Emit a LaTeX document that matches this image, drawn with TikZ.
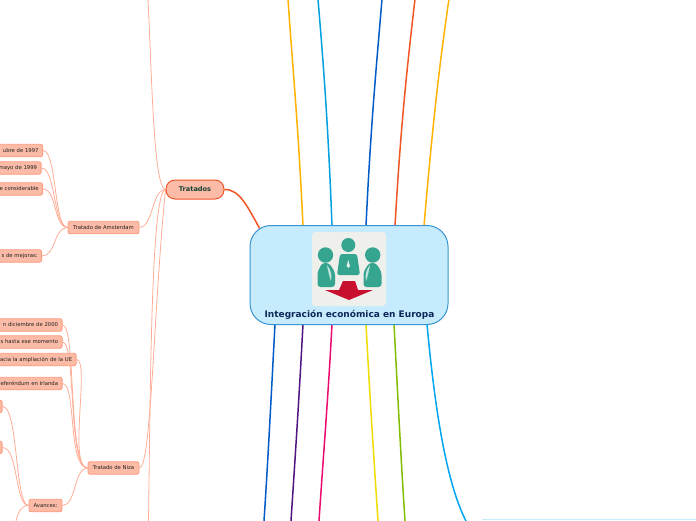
\documentclass[tikz,border=0pt]{standalone}
\usepackage{fontspec}
\setmainfont{DejaVu Sans}
\definecolor{leaffill}{HTML}{FBBBA6}
\definecolor{leafdraw}{HTML}{FF9B7E}
\definecolor{linkc}{HTML}{FFAD96}
\definecolor{teal1}{HTML}{36A590}
\pgfdeclarelayer{bg}
\pgfsetlayers{bg,main}
\tikzset{
  leaf/.style={draw=leafdraw,fill=leaffill,line width=.8pt,rounded corners=2pt,font=\fontsize{5.3}{6}\selectfont,text=black!88,inner sep=0pt,minimum height=12.5pt},
  leafl/.style={leaf,anchor=east,text width=110pt,align=right,inner xsep=4pt,text height=4pt,text depth=1pt},
  link/.style={draw=linkc,line width=.8pt},
  branch/.style={line width=1.5pt},
}
\begin{document}
\begin{tikzpicture}[x=1pt,y=-1pt]
\useasboundingbox (0,0) rectangle (696,520);
\clip (0,0) rectangle (696,520);
% free ends
\coordinate (t1) at (288,-1);\coordinate (t2) at (318,-1);\coordinate (t3) at (382,-1);\coordinate (t4) at (415,-1);\coordinate (t5) at (449,-1);
\coordinate (b1) at (264,521);\coordinate (b2) at (291,521);\coordinate (b3) at (319,521);\coordinate (b4) at (378,521);\coordinate (b5) at (405,521);\coordinate (b6) at (466,521);
\coordinate (c1) at (303,226);\coordinate (c2) at (332,226);\coordinate (c3) at (366,226);\coordinate (c4) at (395,226);\coordinate (c5) at (424,226);
\coordinate (d1) at (275,324);\coordinate (d2) at (303,324);\coordinate (d3) at (332,324);\coordinate (d4) at (366,324);\coordinate (d5) at (394,324);\coordinate (d6) at (427,324);
\coordinate (up) at (148,-1);\coordinate (down) at (148.5,521);\coordinate (avd) at (16,521);
\coordinate (e1) at (260,229);
% branches
\draw[branch,color={rgb,255:red,255;green,179;blue,0}] (c1) .. controls (298,120) and (292,60) .. (t1);
\draw[branch,color={rgb,255:red,0;green,160;blue,225}] (c2) .. controls (328,120) and (323,60) .. (t2);
\draw[branch,color={rgb,255:red,0;green,90;blue,200}] (c3) .. controls (371,120) and (377,60) .. (t3);
\draw[branch,color={rgb,255:red,240;green,85;blue,35}] (c4) .. controls (401,120) and (408,60) .. (t4);
\draw[branch,color={rgb,255:red,255;green,179;blue,0}] (c5) .. controls (433,120) and (440,60) .. (t5);
\draw[branch,color={rgb,255:red,0;green,90;blue,200}] (d1) .. controls (271,400) and (268,460) .. (b1);
\draw[branch,color={rgb,255:red,80;green,20;blue,130}] (d2) .. controls (299,400) and (295,460) .. (b2);
\draw[branch,color={rgb,255:red,235;green,10;blue,110}] (d3) .. controls (328,400) and (323,460) .. (b3);
\draw[branch,color={rgb,255:red,240;green,220;blue,0}] (d4) .. controls (370,400) and (374,460) .. (b4);
\draw[branch,color={rgb,255:red,130;green,190;blue,0}] (d5) .. controls (398,400) and (401,460) .. (b5);
\draw[branch,color={rgb,255:red,0;green,165;blue,240}] (d6) .. controls (434,400) and (445,480) .. (b6);
% nodes
\node[draw={rgb,255:red,240;green,86;blue,42},fill=leaffill,line width=1pt,rounded corners=9pt,minimum width=58pt,minimum height=19pt,inner sep=0pt,font=\fontsize{6.6}{7}\bfseries\selectfont,text={rgb,255:red,22;green,66;blue,50}] (tr) at (195,189.5) {Tratados};
\draw[branch,color={rgb,255:red,240;green,85;blue,35}] (tr.east) .. controls (240,189) and (248,208) .. (e1);
\node[leaf,minimum width=71pt] (am) at (103.5,227.5) {Tratado de Amsterdam};
\node[leaf,minimum width=51pt] (ni) at (113.5,468) {Tratado de Niza};
\node[leaf,minimum width=33pt] (av) at (45.5,505.5) {Avances:};
\node[leafl] (a1) at (43,150.5) {ubre de 1997};
\node[leafl] (a2) at (41.5,168) {mayo de 1999};
\node[leafl] (a3) at (43,189) {e considerable};
\node[leafl] (a4) at (42,256) {s de mejoras:};
\node[leafl] (n1) at (62.5,325) {n diciembre de 2000};
\node[leafl] (n2) at (62.5,342) {s hasta ese momento};
\node[leafl] (n3) at (76.5,359.5) {acia la ampliación de la UE};
\node[leafl] (n4) at (62.5,383.5) {eferéndum en Irlanda};
\node[leafl,text width=20pt] (s1) at (2.5,406.5) {};
\node[leafl,text width=20pt] (s2) at (2.5,447.5) {};
% links
\begin{pgfonlayer}{bg}
\foreach \n in {a1,a2,a3,a4}{\draw[link] (\n.east) .. controls +(14,0) and +(-14,0) .. (am.west);}
\foreach \n in {n1,n2,n3,n4}{\draw[link] (\n.east) .. controls +(14,0) and +(-20,0) .. (ni.west);}
\foreach \n in {s1,s2}{\draw[link] (\n.east) .. controls +(16,0) and +(-14,0) .. (av.west);}
\draw[link] (av.west) .. controls +(-8,0) and +(2,-8) .. (avd);
\draw[link] (av.east) .. controls +(14,0) and +(-14,0) .. (ni.west);
\draw[link] (am.east) .. controls +(14,0) and +(-14,0) .. (tr.west);
\draw[link] (ni.east) .. controls +(12,0) and +(-12,120) .. (tr.west);
\draw[link] (tr.west) .. controls +(-12,-2) and +(4,80) .. (up);
\draw[link] (tr.west) .. controls +(-14,2) and +(2,-150) .. (down);
\end{pgfonlayer}
% centre
\node[draw={rgb,255:red,58;green,148;blue,208},fill={rgb,255:red,197;green,235;blue,253},line width=1pt,rounded corners=21pt,minimum width=198pt,minimum height=99pt,inner sep=0pt] (main) at (349,275) {};
\node[font=\fontsize{9}{10}\bfseries\selectfont,text={rgb,255:red,15;green,40;blue,90},inner sep=0pt] (title) at (349.5,314.6) {Integración económica en Europa};
% icon
\fill[rounded corners=3pt,color={rgb,255:red,239;green,239;blue,236}] (312,232) rectangle (386,306);
\fill[teal1] (348.3,245) circle (7);
\fill[teal1] (325.5,255) circle (7.7);
\fill[teal1] (372.7,255) circle (7.7);
\fill[teal1,rounded corners=2.5pt] (340,254) -- (357,254) -- (360,275) -- (337,275) -- cycle;
\fill[teal1,rounded corners=3pt] (322,263) -- (329,263) -- (335,272) -- (335,287) -- (317.5,287) -- (317.5,272) -- cycle;
\fill[teal1,rounded corners=3pt] (369,263) -- (376,263) -- (381.5,272) -- (381.5,287) -- (363.5,287) -- (363.5,272) -- cycle;
\fill[white!85!teal1] (348.3,260) -- (350,266) -- (348.3,268) -- (346.6,266) -- cycle;
\fill[white!70!teal1] (327,265) .. controls (331,270) and (332,275) .. (331,281) .. controls (329,276) and (328,270) .. cycle;
\fill[white!70!teal1] (370,265) .. controls (366,270) and (365,275) .. (366,281) .. controls (368,276) and (369,270) .. cycle;
\fill[color={rgb,255:red,200;green,16;blue,46}] (343,281) -- (355,281) -- (358,290) -- (373,290) -- (349,300) -- (325,290) -- (339,290) -- cycle;
% lower right rule
\coordinate (r1) at (482,519.7);\coordinate (r2) at (697,519.7);
\draw[color={rgb,255:red,197;green,235;blue,253},line width=1pt] (r1) -- (r2);
\end{tikzpicture}
\end{document}
